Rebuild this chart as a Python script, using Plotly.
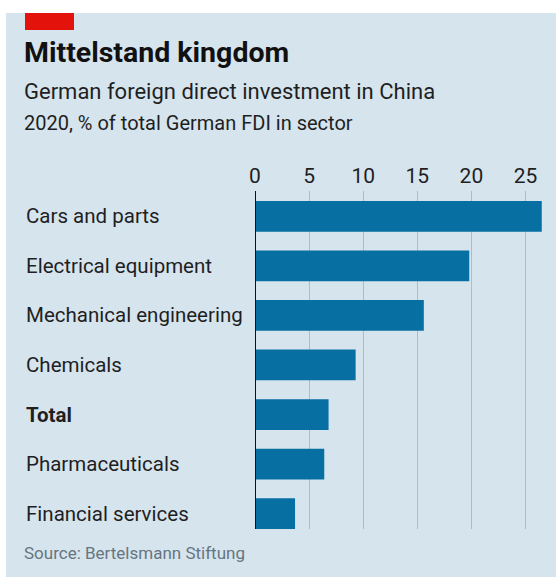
import plotly.graph_objects as go

# Sector shares of German FDI stock located in China, 2020
sectors = [
    "Cars and parts",
    "Electrical equipment",
    "Mechanical engineering",
    "Chemicals",
    "Total",
    "Pharmaceuticals",
    "Financial services",
]
shares = [26.5, 19.8, 15.6, 9.3, 6.8, 6.4, 3.7]
x_ticks = [0, 5, 10, 15, 20, 25]

W, H = 556, 577
ML, MR, MT, MB = 255, 11, 191, 48
PW, PH = W - ML - MR, H - MT - MB

BG = "#d6e4ee"
BAR = "#076fa1"
INK = "#1f1f1f"
FONT = "Roboto, sans-serif"


def px(x):
    return (x - ML) / PW


def py(y):
    return (H - MB - y) / PH


fig = go.Figure(
    go.Bar(
        x=shares,
        y=sectors,
        orientation="h",
        marker=dict(color=BAR, line=dict(width=0)),
        width=0.62,
    )
)

annotations = []
for name in sectors:
    label = f"<b>{name}</b>" if name == "Total" else name
    annotations.append(dict(
        text=label, xref="paper", yref="y", x=px(24), y=name,
        xanchor="left", yanchor="middle", showarrow=False,
        font=dict(family=FONT, size=20.5, color=INK),
    ))

annotations += [
    dict(text="<b>Mittelstand kingdom</b>", xref="paper", yref="paper",
         x=px(22), y=py(53), xanchor="left", yanchor="middle", showarrow=False,
         font=dict(family=FONT, size=28.5, color="#111111")),
    dict(text="German foreign direct investment in China", xref="paper", yref="paper",
         x=px(22), y=py(92), xanchor="left", yanchor="middle", showarrow=False,
         font=dict(family=FONT, size=22, color=INK)),
    dict(text="2020, % of total German FDI in sector", xref="paper", yref="paper",
         x=px(22), y=py(123), xanchor="left", yanchor="middle", showarrow=False,
         font=dict(family=FONT, size=20, color=INK)),
    dict(text="Source: Bertelsmann Stiftung", xref="paper", yref="paper",
         x=px(22), y=py(553), xanchor="left", yanchor="middle", showarrow=False,
         font=dict(family=FONT, size=17, color="#66757f")),
]

shapes = [
    # panel background
    dict(type="rect", xref="paper", yref="paper", layer="below",
         x0=px(6), x1=px(W + 2), y0=py(13), y1=py(H + 2),
         fillcolor=BG, line=dict(width=0)),
    # red tag
    dict(type="rect", xref="paper", yref="paper",
         x0=px(25), x1=px(74), y0=py(13), y1=py(30),
         fillcolor="#e3120b", line=dict(width=0)),
]

fig.update_layout(
    width=W, height=H,
    margin=dict(l=ML, r=MR, t=MT, b=MB, pad=0),
    paper_bgcolor="white",
    plot_bgcolor=BG,
    showlegend=False,
    annotations=annotations,
    shapes=shapes,
    font=dict(family=FONT, color=INK),
)

fig.update_xaxes(
    side="top", range=[0, 26.8], tickvals=x_ticks,
    showgrid=True, gridcolor="#aebcc6", gridwidth=1,
    zeroline=False, showline=False, ticks="",
    tickfont=dict(family=FONT, size=21, color=INK),
    ticklabelstandoff=3,
)
fig.update_yaxes(
    categoryorder="array", categoryarray=sectors,
    range=[6.31, -0.51], showticklabels=False, showgrid=False,
    zeroline=False, showline=False, ticks="",
)

# zero baseline
fig.add_vline(x=0, line=dict(color="#111111", width=2), layer="above")

fig.write_html("out.html")
